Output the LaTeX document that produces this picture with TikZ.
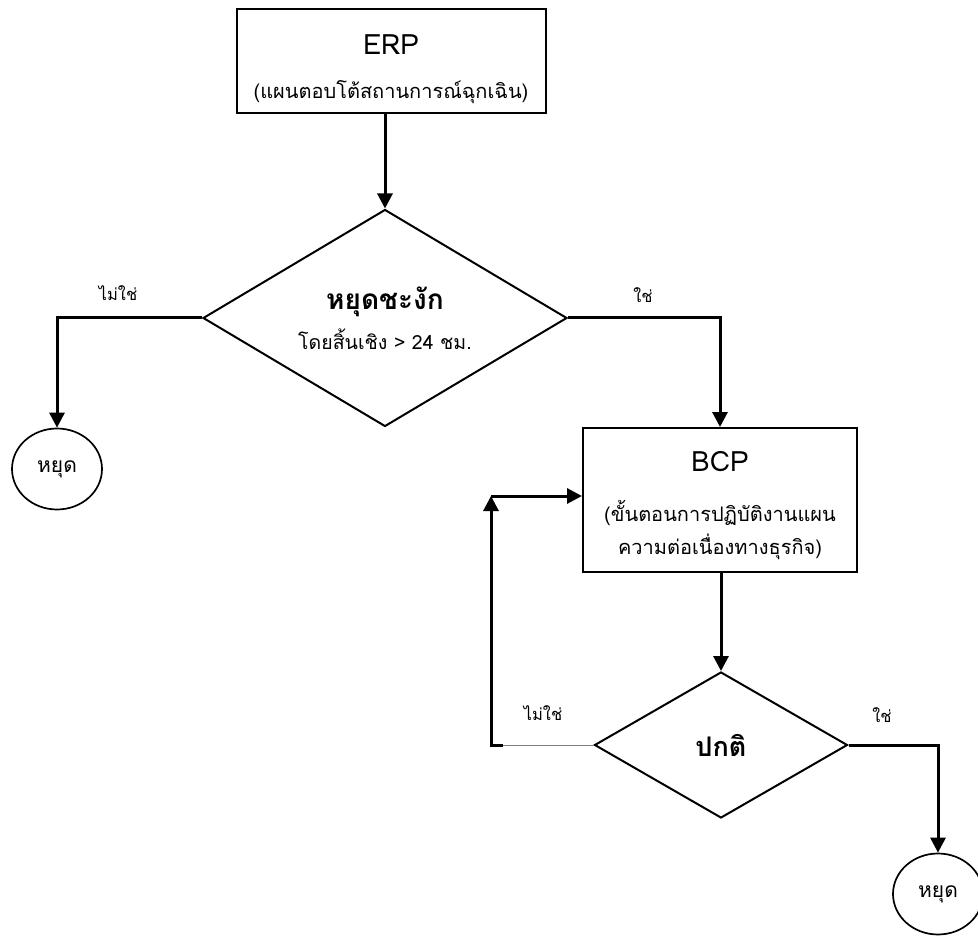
\documentclass[tikz,border=0pt]{standalone}
\usepackage{fontspec}
\setmainfont[Script=Thai]{Loma}
\usetikzlibrary{shapes.geometric,arrows.meta}

\begin{document}
\begin{tikzpicture}[x=1pt,y=-1pt,
  box/.style={draw,line width=2pt,align=center,inner sep=0pt,font=\fontsize{20}{33}\selectfont},
  decision/.style={draw,diamond,line width=2pt,aspect=1.7,inner sep=0pt,align=center,font=\fontsize{19.5}{32}\selectfont},
  halt/.style={draw,ellipse,line width=1.7pt,minimum width=90pt,minimum height=81pt,inner sep=0pt,font=\fontsize{21}{24}\selectfont},
  conn/.style={line width=3pt,-{Triangle[length=15pt,width=15pt]}},
  lbl/.style={font=\fontsize{16.5}{20}\selectfont}]
\path[use as bounding box,clip] (0,0) rectangle (978,936);

% plans
\node[box,minimum width=309pt,minimum height=104pt] (erp) at (391,61)
  {{\fontsize{28}{30}\selectfont\rule{0pt}{36pt}ERP}\\[11pt](แผนตอบโต้สถานการณ์ฉุกเฉิน)};
\node[box,minimum width=274pt,minimum height=144pt] (bcp) at (720,500)
  {{\fontsize{28}{30}\selectfont\rule{0pt}{32pt}BCP}\\[17pt](ขั้นตอนการปฏิบัติงานแผน\\ความต่อเนื่องทางธุรกิจ)};

% decisions
\node[decision,minimum width=364pt,minimum height=217pt] (dec1) at (385,318)
  {{\fontsize{28}{30}\selectfont\bfseries หยุดชะงัก}\\[8pt]โดยสิ้นเชิง > 24 ชม.};
\node[decision,minimum width=253pt,minimum height=146pt] (dec2) at (721,745)
  {{\fontsize{27}{30}\selectfont\bfseries ปกติ}};

% ends
\node[halt] (halt1) at (57,469) {หยุด};
\node[halt] (halt2) at (938,894) {หยุด};

% labels
\node[lbl] (no1) at (118,293) {ไม่ใช่};
\node[lbl] (yes1) at (643,295) {ใช่};
\node[lbl] (no2) at (543,713) {ไม่ใช่};
\node[lbl] (yes2) at (882,715) {ใช่};

\coordinate (loopB) at (491,745);
\coordinate (loopT) at (491,496);

\draw[conn] (erp.south -| dec1.north) -- (dec1.north);
\draw[conn] (dec1.west) -| (halt1.north);
\draw[conn] (dec1.east) -| (bcp.north);
\draw[conn] (bcp.south -| dec2.north) -- (dec2.north);
\draw[conn] (dec2.east) -| (halt2.north);
\draw[line width=0.8pt,gray] (dec2.west) -- (loopB);
\draw[conn] ([xshift=12pt]loopB) -- (loopB) -- (loopT);
\draw[conn] (loopT) -- (loopT -| bcp.west);
\end{tikzpicture}
\end{document}
